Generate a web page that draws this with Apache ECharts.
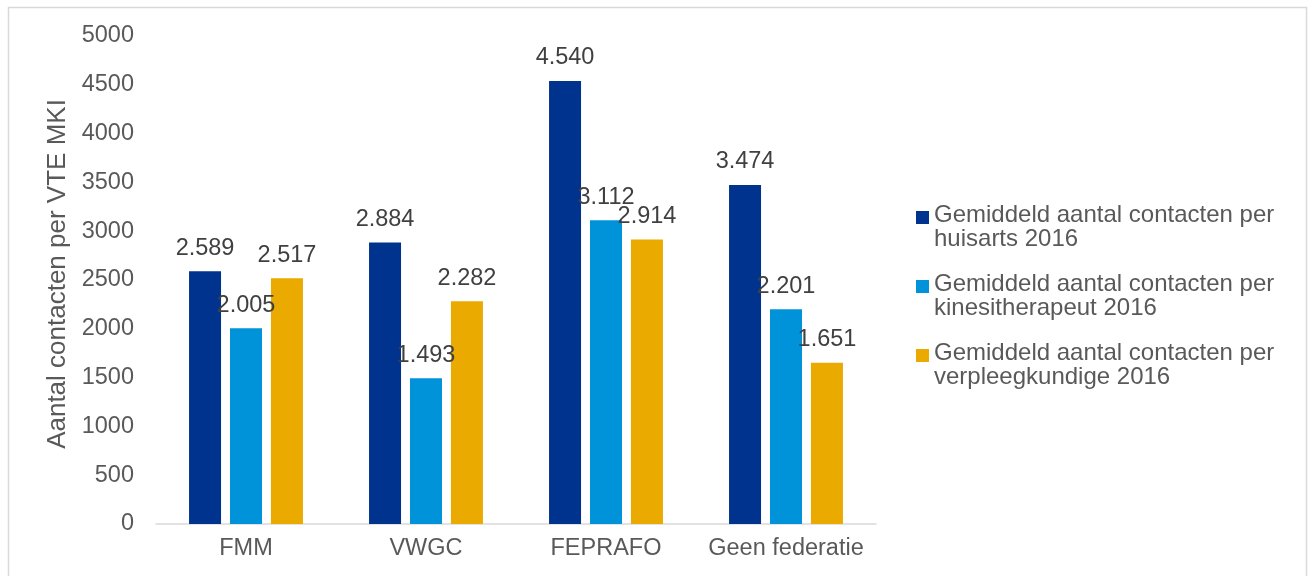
<!DOCTYPE html>
<html>
<head>
<meta charset="utf-8">
<script src="https://cdn.jsdelivr.net/npm/echarts@6/dist/echarts.min.js"></script>
<style>
  html, body { margin: 0; padding: 0; background: #fff; }
  #chart { width: 1312px; height: 576px; }
</style>
</head>
<body>
<div id="chart"></div>
<script>
// categorieën en waarden
const federaties = ['FMM', 'VWGC', 'FEPRAFO', 'Geen federatie'];
const huisarts = [2589, 2884, 4540, 3474];
const kine = [2005, 1493, 3112, 2201];
const verpleeg = [2517, 2282, 2914, 1651];
const seriesNames = [
    'Gemiddeld aantal contacten per huisarts 2016',
    'Gemiddeld aantal contacten per kinesitherapeut 2016',
    'Gemiddeld aantal contacten per verpleegkundige 2016'
];
const kleuren = ['#00338d', '#0093d9', '#eaaa00'];

const fontFam = '"Liberation Sans", Arial, sans-serif';
const fs = 23.5;

// getal met punt als duizendtal-scheiding
const fmt = (v) => {
    const s = String(v);
    return s.length > 3 ? s.slice(0, s.length - 3) + '.' + s.slice(-3) : s;
};

const chart = echarts.init(document.getElementById('chart'));

const makeSeries = (name, data, color) => ({
    name: name,
    type: 'bar',
    data: data,
    barWidth: 32,
    barGap: '28%',
    itemStyle: { color: color },
    label: {
        show: true,
        position: 'top',
        distance: 11,
        formatter: (p) => fmt(p.value),
        color: '#404040',
        fontSize: fs,
        fontFamily: fontFam
    }
});

const option = {
    animation: false,
    backgroundColor: '#fff',
    graphic: [{
        type: 'rect',
        shape: { x: 8.5, y: 7.5, width: 1298, height: 600 },
        style: { fill: 'none', stroke: '#d9d9d9', lineWidth: 1.5 },
        silent: true
    }],
    grid: { left: 156, right: 436, top: 36, bottom: 52 },
    legend: {
        orient: 'vertical',
        left: 911,
        top: 198,
        itemGap: 20,
        itemWidth: 13,
        itemHeight: 49,
        // vierkantje bij de eerste regel, losse punten maken de box hoog genoeg
        icon: 'path://M0,0 M0,8h13v13h-13z M0,49',
        data: seriesNames,
        formatter: (name) => {
            const idx = name.indexOf(' per ') + 4;
            return name.slice(0, idx) + '\n' + name.slice(idx + 1);
        },
        textStyle: {
            color: '#595959',
            fontSize: 24,
            lineHeight: 24.5,
            fontFamily: fontFam
        }
    },
    xAxis: {
        type: 'category',
        data: federaties,
        axisLine: { lineStyle: { color: '#d9d9d9', width: 1.5 } },
        axisTick: { show: false },
        axisLabel: { color: '#595959', fontSize: fs, margin: 12.5, interval: 0, fontFamily: fontFam }
    },
    yAxis: {
        type: 'value',
        min: 0,
        max: 5000,
        interval: 500,
        name: 'Aantal contacten per VTE MKI',
        nameLocation: 'middle',
        nameGap: 77,
        nameTextStyle: { color: '#595959', fontSize: 26, fontFamily: fontFam, padding: [0, 0, 0, 12] },
        axisLine: { show: false },
        axisTick: { show: false },
        splitLine: { show: false },
        axisLabel: {
            color: '#595959',
            fontSize: fs,
            margin: 22,
            fontFamily: fontFam,
            formatter: (v) => String(v)
        }
    },
    series: [
        makeSeries(seriesNames[0], huisarts, kleuren[0]),
        makeSeries(seriesNames[1], kine, kleuren[1]),
        makeSeries(seriesNames[2], verpleeg, kleuren[2])
    ]
};

chart.setOption(option);
</script>
</body>
</html>
